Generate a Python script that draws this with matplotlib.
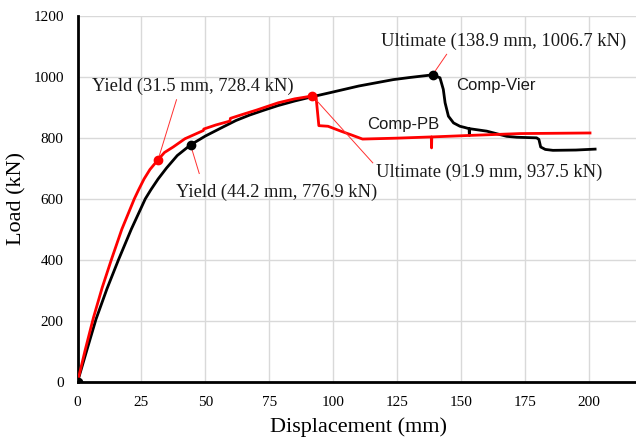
import matplotlib
matplotlib.use("Agg")
import matplotlib.pyplot as plt

# Comp-Vier (black)
vier_disp = [0, 3.5, 7.2, 11.5, 16, 21, 26.5, 28.7, 31.5, 34.8, 39, 44.2, 50, 57, 62, 67.4, 73,
             78.5, 85, 91.9, 98.7, 110, 123.5, 130, 138.9, 141.8, 143.1, 143.8, 145.1, 147.1,
             149.6, 151.5, 153.2, 153.3, 153.4, 160.1, 167.9, 171.8, 179.6, 180.5, 181.2, 183,
             186, 195, 202.5]
vier_load = [0, 100, 205, 305, 400, 500, 600, 630, 665, 701, 742, 776.9, 806, 836, 857, 875, 891,
             906, 921, 935, 948, 970, 991, 998, 1006.7, 997, 959, 915, 871, 849,
             838, 834, 830, 808, 830, 822, 805, 802, 800, 795, 770, 762,
             759, 760, 763]

# Comp-PB (red)
pb_disp = [0, 3, 6.2, 9.6, 13.2, 17.3, 22.2, 23.9, 26, 28.3, 31.5, 34, 37.4, 42, 46, 49.2,
           49.4, 54, 59.6, 59.8, 65, 70, 78.5, 85, 91.9, 93.3, 94.4, 98, 103, 107, 111.5, 125,
           138.4, 138.5, 138.6, 153.6, 173, 200.5]
pb_load = [0, 105, 210, 308, 400, 500, 600, 630, 665, 696, 728.4, 752, 770, 797, 812, 824,
           829, 842, 855, 864, 878, 891, 915, 928, 937.5, 935, 840, 838, 822, 810, 796, 799,
           803, 767, 803, 808, 814, 816]

# key points
vier_yield = (44.2, 776.9)
vier_ult = (138.9, 1006.7)
pb_yield = (31.5, 728.4)
pb_ult = (91.9, 937.5)

serif = ["Liberation Serif", "DejaVu Serif"]
sans = ["Liberation Sans", "DejaVu Sans"]

fig = plt.figure(figsize=(6.36, 4.42), dpi=100)
ax = fig.add_axes([0.122, 0.1364, 0.878, 0.8276])

ax.set_xlim(0, 218.5)
ax.set_ylim(0, 1200)
ax.set_xticks([0, 25, 50, 75, 100, 125, 150, 175, 200])
ax.set_yticks([0, 200, 400, 600, 800, 1000, 1200])
ax.grid(True, color="#d9d9d9", linewidth=1.0)
ax.set_axisbelow(True)
for s in ["top", "right"]:
    ax.spines[s].set_visible(False)
for s in ["left", "bottom"]:
    ax.spines[s].set_linewidth(2)
    ax.spines[s].set_color("black")
ax.tick_params(length=0, pad=10, labelsize=11)
for lbl in ax.get_xticklabels() + ax.get_yticklabels():
    lbl.set_fontfamily(serif)

ax.plot(vier_disp, vier_load, color="black", lw=2, zorder=3, solid_joinstyle="round")
ax.plot(pb_disp, pb_load, color="#ff0000", lw=2, zorder=4, solid_joinstyle="round")

ax.plot([vier_yield[0], vier_ult[0], 0], [vier_yield[1], vier_ult[1], 0], "o",
        color="black", ms=6, zorder=6)
ax.plot([pb_yield[0], pb_ult[0]], [pb_yield[1], pb_ult[1]], "o",
        color="#ff0000", ms=6, zorder=6)

lead = dict(color="#ff3030", lw=0.7, zorder=5)
ax.plot([38.7, pb_yield[0]], [925, pb_yield[1]], **lead)
ax.plot([vier_yield[0], 47.6], [vier_yield[1], 683], **lead)
ax.plot([pb_ult[0], 115.5], [pb_ult[1], 718], **lead)
ax.plot([vier_ult[0], 144.4], [vier_ult[1], 1074], **lead)

tk = dict(fontsize=13.3, family=serif, ha="center", va="center", color="#1a1a1a")
ax.text(45.1, 968, "Yield (31.5 mm, 728.4 kN)", **tk)
ax.text(77.9, 621, "Yield (44.2 mm, 776.9 kN)", **tk)
ax.text(161.2, 687, "Ultimate (91.9 mm, 937.5 kN)", **tk)
ax.text(166.6, 1117, "Ultimate (138.9 mm, 1006.7 kN)", **tk)
ax.text(163.5, 972, "Comp-Vier", fontsize=12, family=sans, ha="center", va="center",
        color="#1a1a1a")
ax.text(127.3, 844, "Comp-PB", fontsize=12, family=sans, ha="center", va="center",
        color="#1a1a1a")

fig.text(17 / 636, 1 - 199 / 442, "Load (kN)", rotation=90, fontsize=16, family=serif,
         ha="center", va="center")
fig.text(358 / 636, 1 - 426.7 / 442, "Displacement (mm)", fontsize=16, family=serif,
         ha="center", va="center")

fig.savefig("out.png", dpi=100)
